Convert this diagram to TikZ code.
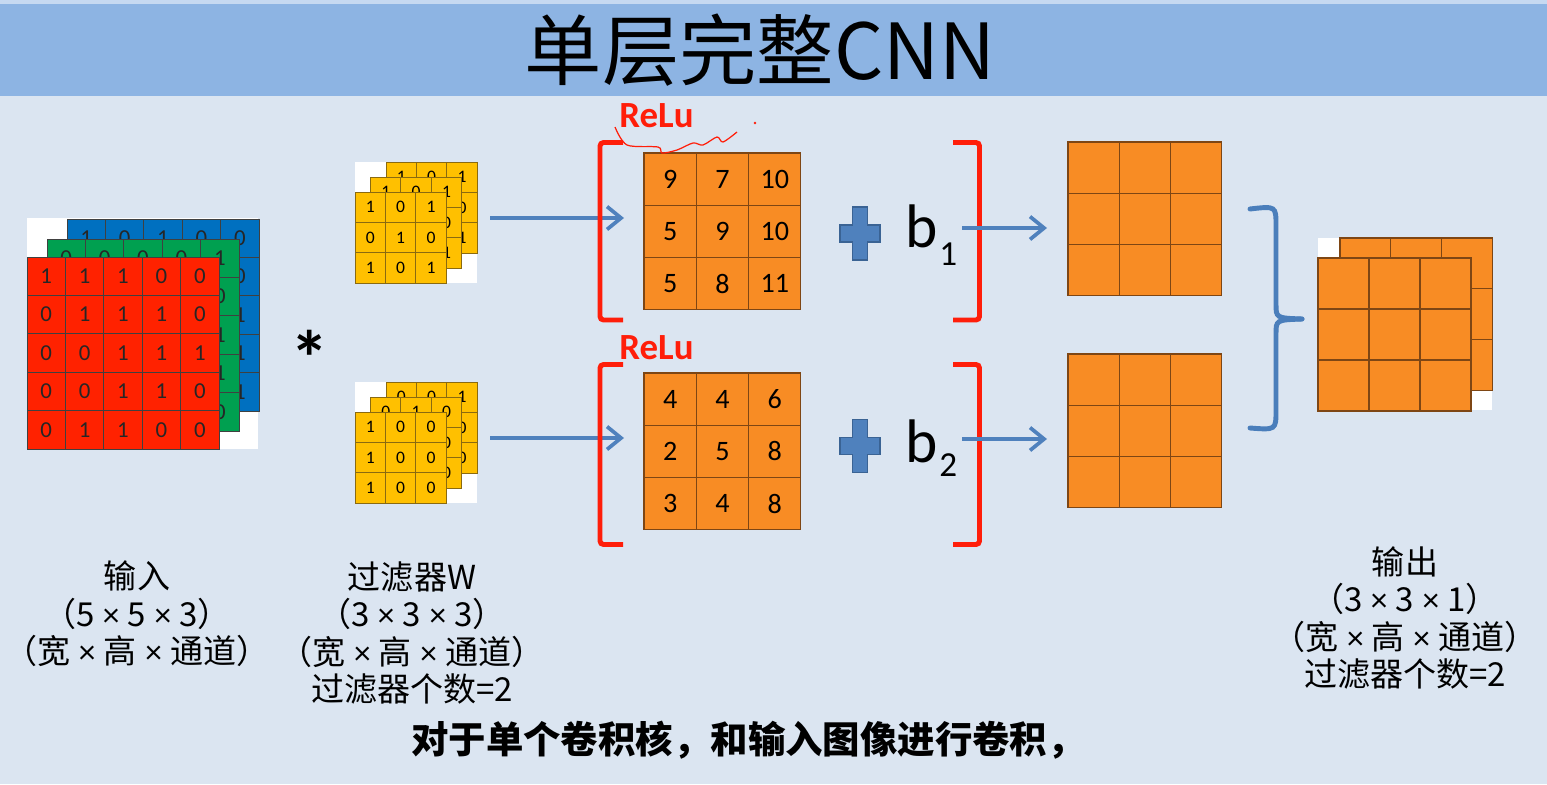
\documentclass[tikz,border=0pt]{standalone}
\usepackage{fontspec}
\setmainfont{Carlito}
\newfontfamily\cjk{Noto Sans CJK SC}
\usetikzlibrary{arrows.meta}

\definecolor{bgcol}{HTML}{DBE5F1}
\definecolor{titlecol}{HTML}{8DB4E3}
\definecolor{titletop}{HTML}{C6D9F1}
\definecolor{inred}{HTML}{FF2200}
\definecolor{ingreen}{HTML}{00A050}
\definecolor{inblue}{HTML}{0070C0}
\definecolor{filtcol}{HTML}{FFC000}
\definecolor{filtline}{HTML}{8A6A10}
\definecolor{mapcol}{HTML}{F88C24}
\definecolor{mapline}{HTML}{7E4614}
\definecolor{arrowcol}{HTML}{4F81BD}
\definecolor{plusline}{HTML}{3A6394}
\definecolor{relucol}{HTML}{FF1E0A}
\definecolor{bracecol}{HTML}{4A7EBB}

% 窄的乘号
\newcommand{\by}{{\rmfamily\fontsize{19}{19}\selectfont\hspace{0.25em}×\hspace{0.25em}}}

% 网格：名字, 样式, 左上角x, 左上角y, 格子边长(px), 各行数值
\newcommand{\numgrid}[6]{%
  \foreach \row [count=\i] in {#6}
    \foreach \v [count=\j] in \row
      \node[#2, minimum size=#5*0.02cm] (#1-\i-\j) at ({#3+(\j-0.5)*#5}, {#4+(\i-0.5)*#5}) {\v};
}
% 空网格：名字, 样式, 左上角x, 左上角y, 格子边长(px), 行列数
\newcommand{\blankgrid}[6]{%
  \foreach \i in {1,...,#6}
    \foreach \j in {1,...,#6}
      \node[#2, minimum size=#5*0.02cm] (#1-\i-\j) at ({#3+(\j-0.5)*#5}, {#4+(\i-0.5)*#5}) {};
}

\tikzset{
  addsign/.pic={
    \filldraw[fill=arrowcol, draw=plusline, line width=0.6pt]
      (-7.5,-26.5) -- (7.5,-26.5) -- (7.5,-8.5) -- (20,-8.5) -- (20,8.5) -- (7.5,8.5)
      -- (7.5,26.5) -- (-7.5,26.5) -- (-7.5,8.5) -- (-20,8.5) -- (-20,-8.5) -- (-7.5,-8.5) -- cycle;
  }
}

\begin{document}
\begin{tikzpicture}[x=0.02cm, y=-0.02cm,
  incell/.style={draw=black!75, line width=0.5pt, inner sep=0pt, text=black!85, font=\fontsize{13}{13}\selectfont},
  ficell/.style={draw=filtline, line width=0.5pt, fill=filtcol, inner sep=0pt, font=\fontsize{10}{10}\selectfont},
  mapcell/.style={draw=mapline, line width=0.6pt, fill=mapcol, inner sep=0pt, font=\fontsize{16}{16}\selectfont},
  flow/.style={draw=arrowcol, line width=2.1pt, -{Straight Barb[length=8pt,width=13pt]}},
  relubracket/.style={draw=relucol, line width=2.8pt, rounded corners=2pt},
  relulabel/.style={text=relucol, font=\bfseries\fontsize{21}{21}\selectfont, anchor=base west, inner sep=0pt},
  dimlabel/.style={font=\cjk\fontsize{18.8}{21.4}\selectfont, align=center, inner sep=0pt},
]
  \useasboundingbox (0,0) rectangle (1547,784);
  \fill[bgcol] (0,0) rectangle (1547,784);

  % 标题栏
  \fill[titletop] (0,0) rectangle (1547,4);
  \fill[titlecol] (0,4) rectangle (1547,96);
  \node[font=\cjk\fontsize{44}{50}\selectfont] (title) at (760,50) {单层完整CNN};

  % 输入 5x5x3（蓝、绿、红三个通道）
  \fill[white] (27,218) rectangle (258,449);
  \numgrid{blue}{incell, fill=inblue}{67}{219}{38.4}{{1,0,1,0,0},{{},{},{},{},0},{{},{},{},{},1},{{},{},{},{},1},{{},{},{},{},1}}
  \numgrid{green}{incell, fill=ingreen}{47}{239}{38.4}{{0,0,0,0,1},{{},{},{},{},0},{{},{},{},{},1},{{},{},{},{},1},{{},{},{},{},0}}
  \numgrid{red}{incell, fill=inred}{27}{257}{38.4}{{1,1,1,0,0},{0,1,1,1,0},{0,0,1,1,1},{0,0,1,1,0},{0,1,1,0,0}}

  % 卷积符号
  \node[font=\bfseries\fontsize{44}{44}\selectfont, inner sep=0pt] (conv) at (310,358) {*};

  % 过滤器 1
  \fill[white] (355,162) rectangle (477,283);
  \numgrid{fa3}{ficell}{386}{162}{30.4}{{1,0,1},{{},{},0},{{},{},1}}
  \numgrid{fa2}{ficell}{370.5}{177}{30.4}{{1,0,1},{{},{},0},{{},{},1}}
  \numgrid{fa1}{ficell}{355}{192}{30.4}{{1,0,1},{0,1,0},{1,0,1}}

  % 过滤器 2
  \fill[white] (355,382) rectangle (477,503);
  \numgrid{fb3}{ficell}{386}{382}{30.4}{{0,0,1},{{},{},0},{{},{},0}}
  \numgrid{fb2}{ficell}{370.5}{397}{30.4}{{0,1,0},{{},{},0},{{},{},0}}
  \numgrid{fb1}{ficell}{355}{412}{30.4}{{1,0,0},{1,0,0},{1,0,0}}

  % 卷积结果
  \numgrid{map1}{mapcell}{644}{153}{52.3}{{9,7,10},{5,9,10},{5,8,11}}
  \numgrid{map2}{mapcell}{644}{373}{52.3}{{4,4,6},{2,5,8},{3,4,8}}

  % 箭头
  \coordinate (fa-out) at (490,218);
  \coordinate (map1-in) at (624,218);
  \coordinate (fb-out) at (490,438);
  \coordinate (map2-in) at (624,438);
  \draw[flow] (fa-out) -- (map1-in);
  \draw[flow] (fb-out) -- (map2-in);

  % ReLu 括号
  \draw[relubracket] (623,142.5) -- (600,142.5) -- (600,320) -- (623,320);
  \draw[relubracket] (953,142.5) -- (979.5,142.5) -- (979.5,320) -- (953,320);
  \draw[relubracket] (623,364.5) -- (600,364.5) -- (600,544.5) -- (623,544.5);
  \draw[relubracket] (953,364.5) -- (979.5,364.5) -- (979.5,544.5) -- (953,544.5);
  \node[relulabel] (relu1) at (619,128) {ReLu};
  \node[relulabel] (relu2) at (619,359) {ReLu};
  \draw[relucol, line width=0.7pt] plot[smooth] coordinates {(615,127) (627,145) (658,147) (662,153) (677,150) (693,143) (703,145) (717,137) (723,142) (737,132)};
  \fill[relucol] (755,123) circle (1.3);

  % 偏置
  \pic at (860,233.5) {addsign};
  \pic at (860,446) {addsign};
  \node[font=\fontsize{35}{35}\selectfont, anchor=base west, inner sep=0pt] (b1) at (905,247) {b};
  \node[font=\fontsize{20}{20}\selectfont, anchor=base west, inner sep=0pt] (b1sub) at (939,265) {1};
  \node[font=\fontsize{35}{35}\selectfont, anchor=base west, inner sep=0pt] (b2) at (905,462) {b};
  \node[font=\fontsize{20}{20}\selectfont, anchor=base west, inner sep=0pt] (b2sub) at (939,476) {2};

  % 激活后的结果
  \coordinate (b1-out) at (962,228);
  \coordinate (act1-in) at (1047,228);
  \coordinate (b2-out) at (962,439);
  \coordinate (act2-in) at (1047,439);
  \draw[flow] (b1-out) -- (act1-in);
  \draw[flow] (b2-out) -- (act2-in);
  \blankgrid{act1}{mapcell}{1068}{142}{51.3}{3}
  \blankgrid{act2}{mapcell}{1068}{354}{51.3}{3}

  % 大括号
  \coordinate (brace-tip) at (1302,319);
  \draw[bracecol, line width=2.8pt, line cap=round]
    (1250,209) .. controls (1276,206) .. (1276,226) -- (1276,304) .. controls (1276,318) .. (brace-tip);
  \draw[bracecol, line width=2.8pt, line cap=round]
    (brace-tip) .. controls (1276,320) .. (1276,334) -- (1276,410) .. controls (1276,430) .. (1250,428);

  % 输出
  \fill[white] (1318,238) rectangle (1492,410);
  \blankgrid{outb}{mapcell}{1340}{238}{50.7}{3}
  \blankgrid{outf}{mapcell}{1318}{258}{51}{3}

  % 说明文字
  \node[dimlabel] (inlabel) at (137,614) {输入\\（5\by{}5\by{}3）\\（宽\by{}高\by{}通道）};
  \node[dimlabel] (filtlabel) at (412,633) {过滤器W\\（3\by{}3\by{}3）\\（宽\by{}高\by{}通道）\\过滤器个数=2};
  \node[dimlabel] (outlabel) at (1405,618) {输出\\（3\by{}3\by{}1）\\（宽\by{}高\by{}通道）\\过滤器个数=2};
  \node[font=\cjk\bfseries\fontsize{21.3}{24}\selectfont] (caption) at (748,740) {对于单个卷积核，和输入图像进行卷积，};
\end{tikzpicture}
\end{document}
